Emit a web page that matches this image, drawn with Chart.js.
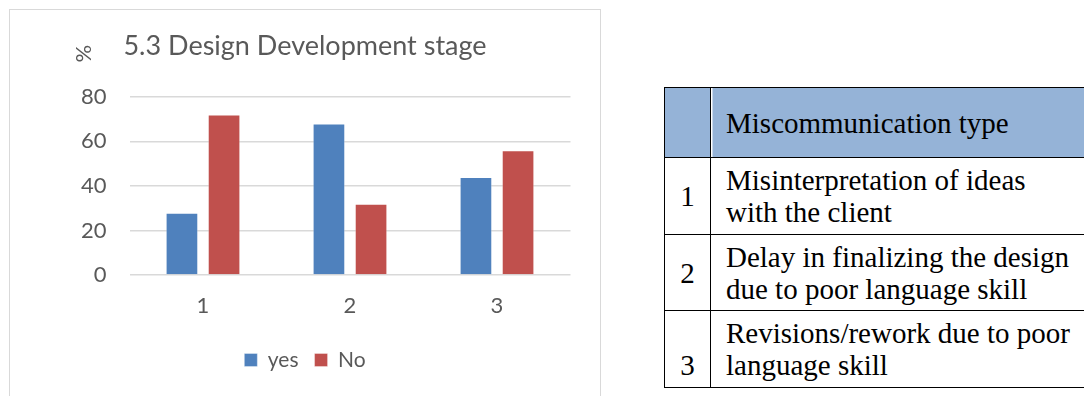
<!DOCTYPE html>
<html>
<head>
<meta charset="utf-8">
<script src="https://cdn.jsdelivr.net/npm/chart.js@4.4.1/dist/chart.umd.min.js"></script>
<style>
  body { margin: 0; background: #fff; width: 1084px; height: 396px; overflow: hidden; position: relative; }
  #box { position: absolute; left: 9px; top: 9px; width: 592px; height: 400px;
         border: 1.5px solid #d9d9d9; box-sizing: border-box; }
  #box .inner { position: relative; width: 100%; height: 100%; }
  table { position: absolute; left: 664px; top: 87px; width: 520px; table-layout: fixed;
          border-collapse: collapse; font-family: "Liberation Serif", "Times New Roman", serif;
          font-size: 29px; line-height: 32px; color: #000; }
  td { border: 1.3px solid #000; padding: 0 0 0 15px; vertical-align: middle; white-space: nowrap; }
  td.num { padding: 0; text-align: center; }
  tr.head td { background: #95b3d7; }
  tr.head td.desc { box-shadow: inset 1.5px 0 0 #fff; }
</style>
</head>
<body>
<div id="box"><div class="inner"><canvas id="chart1"></canvas></div></div>

<table>
  <colgroup><col style="width:46px"><col></colgroup>
  <tr class="head" style="height:70px"><td class="num"></td><td class="desc">Miscommunication type</td></tr>
  <tr style="height:77px"><td class="num">1</td><td>Misinterpretation of ideas<br>with the client</td></tr>
  <tr style="height:76px"><td class="num">2</td><td>Delay in finalizing the design<br>due to poor language skill</td></tr>
  <tr style="height:77px"><td class="num" style="vertical-align:bottom;padding-bottom:6px">3</td><td>Revisions/rework due to poor<br>language skill</td></tr>
</table>

<script>
const categories = ['1', '2', '3'];
const yesValues = [28, 68, 44];
const noValues = [72, 32, 56];
const yMax = 80;
const yStep = 20;

const textColor = '#595959';
const fontFamily = 'Lato, "Noto Sans", sans-serif';

// rotated "%" unit label above the value axis
const percentLabel = {
    id: 'percentLabel',
    afterDraw(chart) {
        const ctx = chart.ctx;
        const area = chart.chartArea;
        ctx.save();
        ctx.translate(area.left - 46, area.top - 43);
        ctx.rotate(-Math.PI / 2);
        ctx.font = '22px ' + fontFamily;
        ctx.fillStyle = textColor;
        ctx.textAlign = 'center';
        ctx.textBaseline = 'middle';
        ctx.fillText('%', 0, 0);
        ctx.restore();
    }
};

const ctx = document.getElementById('chart1').getContext('2d');

const chart1 = new Chart(ctx, {
    type: 'bar',
    data: {
        labels: categories,
        datasets: [{
            label: 'yes',
            data: yesValues,
            backgroundColor: '#4f81bd',
            borderColor: 'rgba(255, 255, 255, 0.35)',
            borderWidth: 1
        }, {
            label: 'No',
            data: noValues,
            backgroundColor: '#c0504d',
            borderColor: 'rgba(255, 255, 255, 0.35)',
            borderWidth: 1
        }]
    },
    options: {
        responsive: true,
        maintainAspectRatio: false,
        animation: false,
        categoryPercentage: 0.573,
        barPercentage: 0.776,
        layout: {
            padding: { left: 0, right: 0, top: 0, bottom: 27.5 }
        },
        scales: {
            x: {
                grid: { display: false },
                border: { display: false },
                ticks: { color: textColor, font: { family: fontFamily, size: 22 }, padding: 9.5 },
                afterFit(scale) { scale.height = 58.5; }
            },
            y: {
                min: 0,
                max: yMax,
                ticks: { stepSize: yStep, color: textColor, font: { family: fontFamily, size: 22 }, padding: 23 },
                grid: { color: '#d9d9d9', lineWidth: 1.5, drawTicks: false },
                border: { display: false },
                afterFit(scale) { scale.width = 119.5; }
            },
            // empty right-hand gutter so title and legend stay centred on the whole box
            gutter: {
                position: 'right',
                grid: { display: false },
                border: { display: false },
                ticks: { display: false },
                afterFit(scale) { scale.width = 29.5; }
            }
        },
        plugins: {
            title: {
                display: true,
                text: '5.3 Design Development stage',
                color: textColor,
                font: { family: fontFamily, size: 27, weight: 'normal' },
                padding: { top: 20.3, bottom: 34.1 }
            },
            legend: {
                display: true,
                position: 'bottom',
                labels: {
                    color: textColor,
                    font: { family: fontFamily, size: 21 },
                    boxWidth: 13,
                    boxHeight: 13,
                    padding: 16
                }
            },
            tooltip: {
                enabled: false
            }
        }
    },
    plugins: [percentLabel]
});
</script>
</body>
</html>
